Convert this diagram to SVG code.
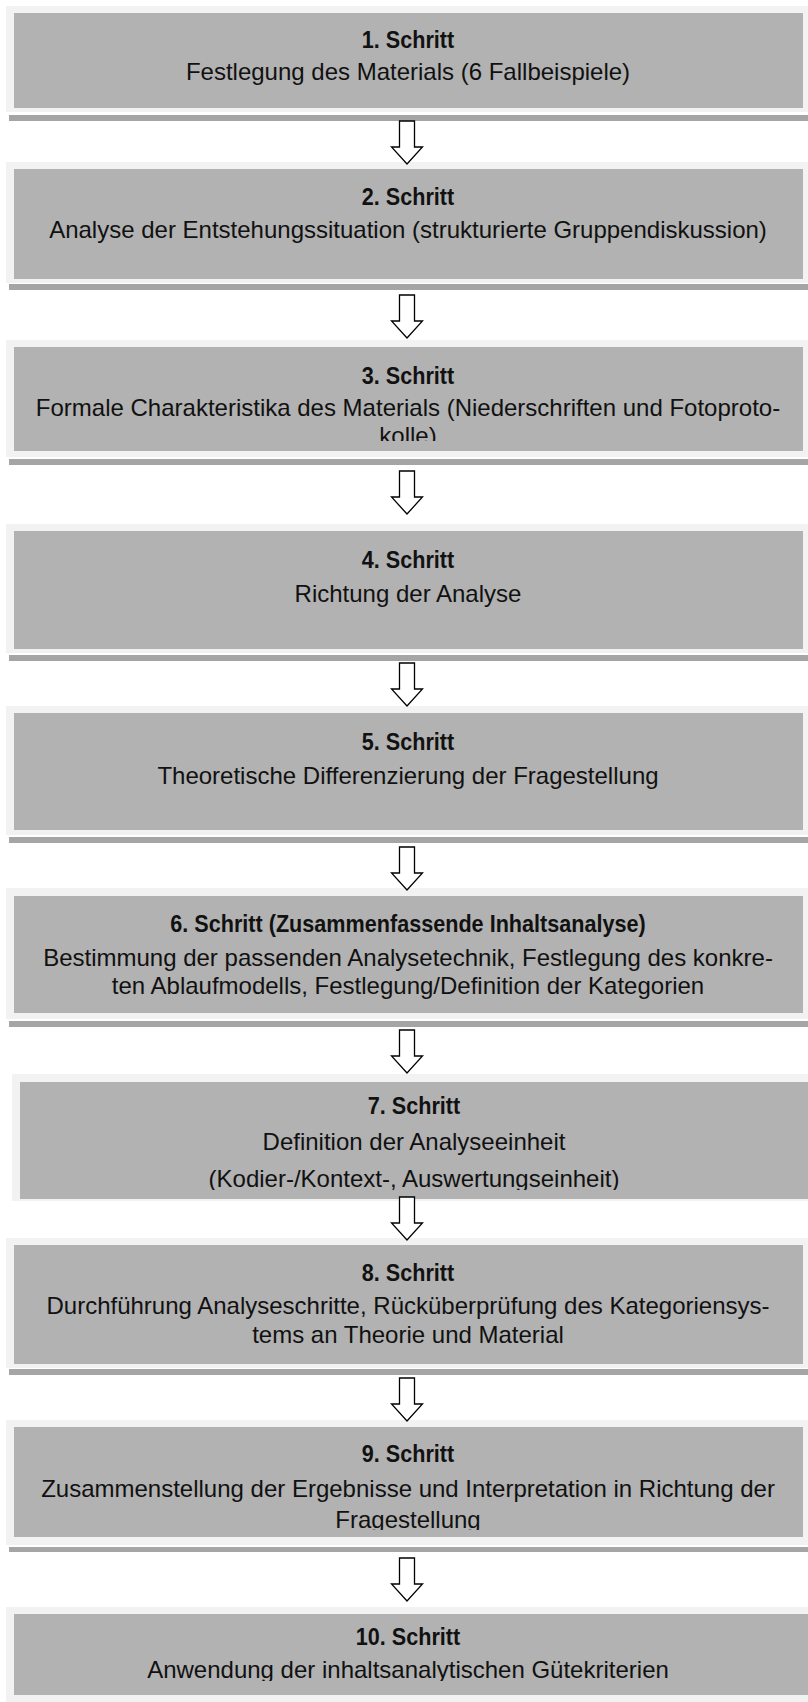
<svg xmlns="http://www.w3.org/2000/svg" width="808" height="1702" viewBox="0 0 808 1702">
  <style>
    .frame { fill: #f2f2f2; }
    .panel { fill: #b2b2b2; }
    .shade { fill: #a5a5a5; }
    .title { font-family: "Liberation Sans", Arial, sans-serif; font-size: 23.5px; font-weight: bold; fill: #111; text-anchor: middle; }
    .body { font-family: "Liberation Sans", Arial, sans-serif; font-size: 24px; fill: #111; text-anchor: middle; }
    .arrow { fill: #fff; stroke: #000; stroke-width: 1.3; stroke-linejoin: miter; }
  </style>
  <defs>
    <!-- hollow down arrow, origin at top of shaft on the centre line -->
    <path id="downArrow" d="M -7.5 0 H 7.5 V 26 H 15.5 L 0 43 L -15.5 26 H -7.5 Z"/>
    <clipPath id="clip3"><rect x="14" y="347" width="789" height="94"/></clipPath>
    <clipPath id="clip7"><rect x="20" y="1082" width="788" height="108"/></clipPath>
    <clipPath id="clip9"><rect x="14" y="1427" width="789" height="103"/></clipPath>
    <clipPath id="clip10"><rect x="14" y="1614" width="794" height="67"/></clipPath>
  </defs>
  <rect width="808" height="1702" fill="#fff"/>

  <g id="step1">
    <rect class="frame" x="6" y="6" width="802" height="106"/>
    <rect class="panel" x="14" y="13" width="789" height="95"/>
    <rect class="shade" x="9" y="115" width="799" height="6"/>
    <text class="title" transform="translate(408 48) scale(0.92 1)">1. Schritt</text>
    <text class="body" x="408" y="80">Festlegung des Materials (6 Fallbeispiele)</text>
  </g>

  <g id="step2">
    <rect class="frame" x="6" y="162" width="802" height="121"/>
    <rect class="panel" x="14" y="169" width="789" height="110"/>
    <rect class="shade" x="9" y="284" width="799" height="6"/>
    <text class="title" transform="translate(408 205) scale(0.92 1)">2. Schritt</text>
    <text class="body" x="408" y="238">Analyse der Entstehungssituation (strukturierte Gruppendiskussion)</text>
  </g>

  <g id="step3">
    <rect class="frame" x="6" y="340" width="802" height="117"/>
    <rect class="panel" x="14" y="347" width="789" height="104"/>
    <rect class="shade" x="9" y="459" width="799" height="6"/>
    <text class="title" transform="translate(408 384) scale(0.92 1)">3. Schritt</text>
    <g clip-path="url(#clip3)">
      <text class="body" x="408" y="416">Formale Charakteristika des Materials (Niederschriften und Fotoproto-</text>
      <text class="body" x="408" y="444">kolle)</text>
    </g>
  </g>

  <g id="step4">
    <rect class="frame" x="6" y="524" width="802" height="129"/>
    <rect class="panel" x="14" y="531" width="789" height="118"/>
    <rect class="shade" x="9" y="655" width="799" height="6"/>
    <text class="title" transform="translate(408 568) scale(0.92 1)">4. Schritt</text>
    <text class="body" x="408" y="602">Richtung der Analyse</text>
  </g>

  <g id="step5">
    <rect class="frame" x="6" y="706" width="802" height="129"/>
    <rect class="panel" x="14" y="713" width="789" height="117"/>
    <rect class="shade" x="9" y="837" width="799" height="6"/>
    <text class="title" transform="translate(408 750) scale(0.92 1)">5. Schritt</text>
    <text class="body" x="408" y="784">Theoretische Differenzierung der Fragestellung</text>
  </g>

  <g id="step6">
    <rect class="frame" x="6" y="888" width="802" height="131"/>
    <rect class="panel" x="14" y="896" width="789" height="117"/>
    <rect class="shade" x="9" y="1021" width="799" height="6"/>
    <text class="title" transform="translate(408 932) scale(0.92 1)">6. Schritt (Zusammenfassende Inhaltsanalyse)</text>
    <text class="body" x="408" y="966">Bestimmung der passenden Analysetechnik, Festlegung des konkre-</text>
    <text class="body" x="408" y="994">ten Ablaufmodells, Festlegung/Definition der Kategorien</text>
  </g>

  <g id="step7">
    <rect class="frame" x="12" y="1074" width="796" height="127"/>
    <rect class="panel" x="20" y="1082" width="788" height="117"/>
    <text class="title" transform="translate(414 1114) scale(0.92 1)">7. Schritt</text>
    <g clip-path="url(#clip7)">
      <text class="body" x="414" y="1150">Definition der Analyseeinheit</text>
      <text class="body" x="414" y="1187">(Kodier-/Kontext-, Auswertungseinheit)</text>
    </g>
  </g>

  <g id="step8">
    <rect class="frame" x="6" y="1238" width="802" height="130"/>
    <rect class="panel" x="14" y="1245" width="789" height="119"/>
    <rect class="shade" x="9" y="1369" width="799" height="6"/>
    <text class="title" transform="translate(408 1281) scale(0.92 1)">8. Schritt</text>
    <text class="body" x="408" y="1314">Durchführung Analyseschritte, Rücküberprüfung des Kategoriensys-</text>
    <text class="body" x="408" y="1343">tems an Theorie und Material</text>
  </g>

  <g id="step9">
    <rect class="frame" x="6" y="1420" width="802" height="125"/>
    <rect class="panel" x="14" y="1427" width="789" height="110"/>
    <rect class="shade" x="9" y="1547" width="799" height="5"/>
    <text class="title" transform="translate(408 1462) scale(0.92 1)">9. Schritt</text>
    <g clip-path="url(#clip9)">
      <text class="body" x="408" y="1497">Zusammenstellung der Ergebnisse und Interpretation in Richtung der</text>
      <text class="body" x="408" y="1528">Fragestellung</text>
    </g>
  </g>

  <g id="step10">
    <rect class="frame" x="6" y="1607" width="802" height="95"/>
    <rect class="panel" x="14" y="1614" width="794" height="81"/>
    <text class="title" transform="translate(408 1645) scale(0.92 1)">10. Schritt</text>
    <g clip-path="url(#clip10)">
      <text class="body" x="408" y="1678">Anwendung der inhaltsanalytischen Gütekriterien</text>
    </g>
  </g>

  <g id="connectors">
    <use href="#downArrow" class="arrow" x="407" y="121"/>
    <use href="#downArrow" class="arrow" x="407" y="295"/>
    <use href="#downArrow" class="arrow" x="407" y="471"/>
    <use href="#downArrow" class="arrow" x="407" y="663"/>
    <use href="#downArrow" class="arrow" x="407" y="847"/>
    <use href="#downArrow" class="arrow" x="407" y="1030"/>
    <use href="#downArrow" class="arrow" x="407" y="1197"/>
    <use href="#downArrow" class="arrow" x="407" y="1378"/>
    <use href="#downArrow" class="arrow" x="407" y="1558"/>
  </g>
</svg>
